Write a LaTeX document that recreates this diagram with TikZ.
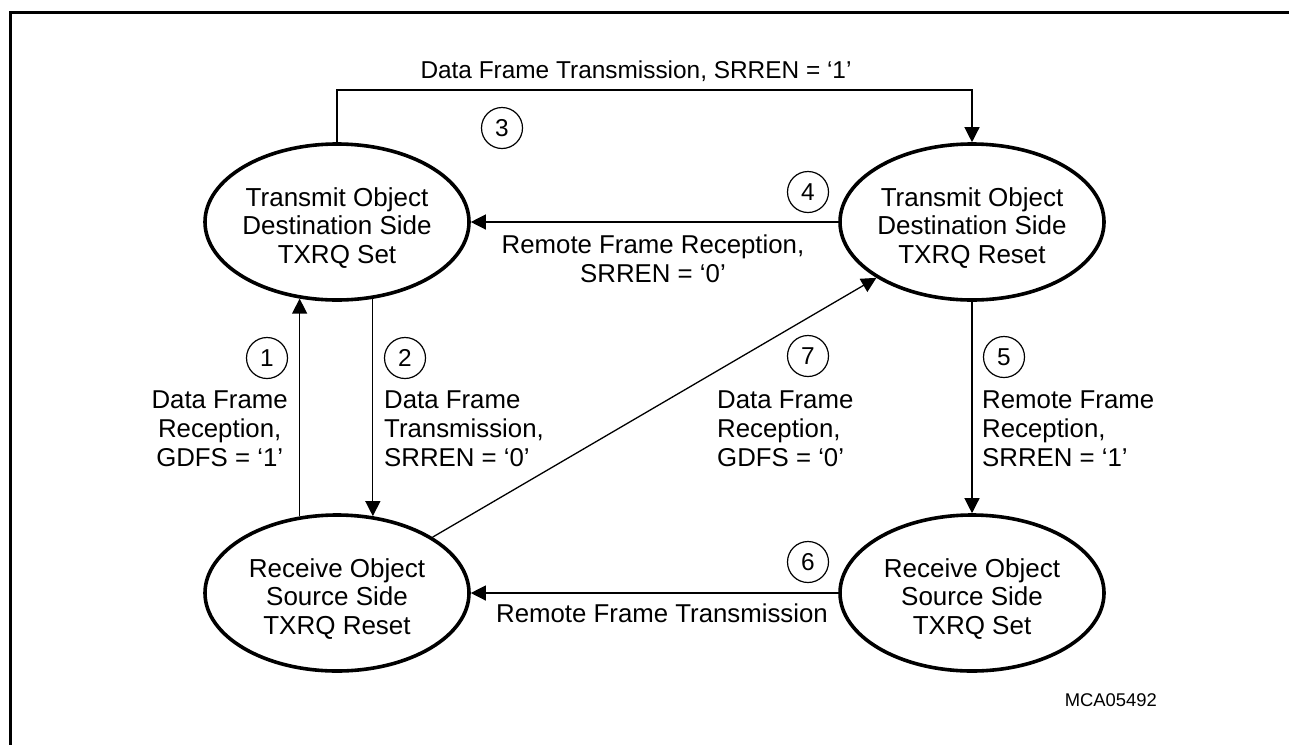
\documentclass[tikz,border=0pt]{standalone}
\usepackage{fontspec}
\setmainfont{Liberation Sans}
\usetikzlibrary{shapes.geometric,arrows.meta}
\begin{document}
\begin{tikzpicture}[x=1pt,y=-1pt,
  state/.style={ellipse,draw,line width=3.6pt,minimum width=264pt,minimum height=156pt,inner sep=0pt},
  stxt/.style={align=center,yshift=-6pt,inner sep=0pt,font=\fontsize{26}{28.5}\selectfont},
  num/.style={circle,draw,line width=1.2pt,minimum size=41pt,inner sep=0pt,font=\fontsize{24.4}{28.5}\selectfont},
  lbl/.style={inner sep=0pt,font=\fontsize{25.8}{28.8}\selectfont},
  conn/.style={line width=1.3pt},
  arr/.style={conn,-{Triangle[length=15pt,width=15pt]}}]
\useasboundingbox (0,0) rectangle (1289,745);
\fill (8.5,10.5) rectangle (11.5,745);
\fill (8.5,10.5) rectangle (1289,13.5);

\node[state,label={[stxt]center:Transmit Object\\Destination Side\\TXRQ Set}] (TL) at (337,222) {};
\node[state,label={[stxt]center:Transmit Object\\Destination Side\\TXRQ Reset}] (TR) at (972,222) {};
\node[state,label={[stxt]center:Receive Object\\Source Side\\TXRQ Reset}] (BL) at (337,593) {};
\node[state,label={[stxt]center:Receive Object\\Source Side\\TXRQ Set}] (BR) at (972,593) {};

\coordinate (top) at (0,90);
% 3
\draw[arr] (TL.north) -- (TL.north |- top) -| (TR.north);
\node[lbl,font=\fontsize{24.4}{28.5}\selectfont] (l3) at (636,71) {Data Frame Transmission, SRREN = ‘1’};
\node[num] (n3) at (502,128) {3};
% 4
\draw[arr] (TR.west) -- (TL.east);
\node[lbl,align=center] (l4) at (653,259) {Remote Frame Reception,\\SRREN = ‘0’};
\node[num] (n4) at (808,192) {4};
% 1
\draw[arr] (BL.116) -- (TL.-116);
\node[num] (n1) at (267,358) {1};
\node[lbl,align=center,anchor=east] (l1) at (288,429) {Data Frame\\Reception,\\GDFS = ‘1’};
% 2
\draw[arr] (TL.-65) -- (BL.65);
\node[num] (n2) at (405,358) {2};
\node[lbl,align=left,anchor=west] (l2) at (384,429) {Data Frame\\Transmission,\\SRREN = ‘0’};
% 7
\draw[arr] (BL) -- (TR);
\node[num] (n7) at (808,356) {7};
\node[lbl,align=left,anchor=west] (l7) at (717,429) {Data Frame\\Reception,\\GDFS = ‘0’};
% 5
\draw[arr] (TR.south) -- (BR.north);
\node[num] (n5) at (1004,357) {5};
\node[lbl,align=left,anchor=west] (l5) at (982,429) {Remote Frame\\Reception,\\SRREN = ‘1’};
% 6
\draw[arr] (BR.west) -- (BL.east);
\node[num] (n6) at (808,562) {6};
\node[lbl] (l6) at (662,613) {Remote Frame Transmission};

\node[inner sep=0pt,anchor=east,font=\fontsize{18.4}{22}\selectfont] (code) at (1157,700) {MCA05492};
\end{tikzpicture}
\end{document}
